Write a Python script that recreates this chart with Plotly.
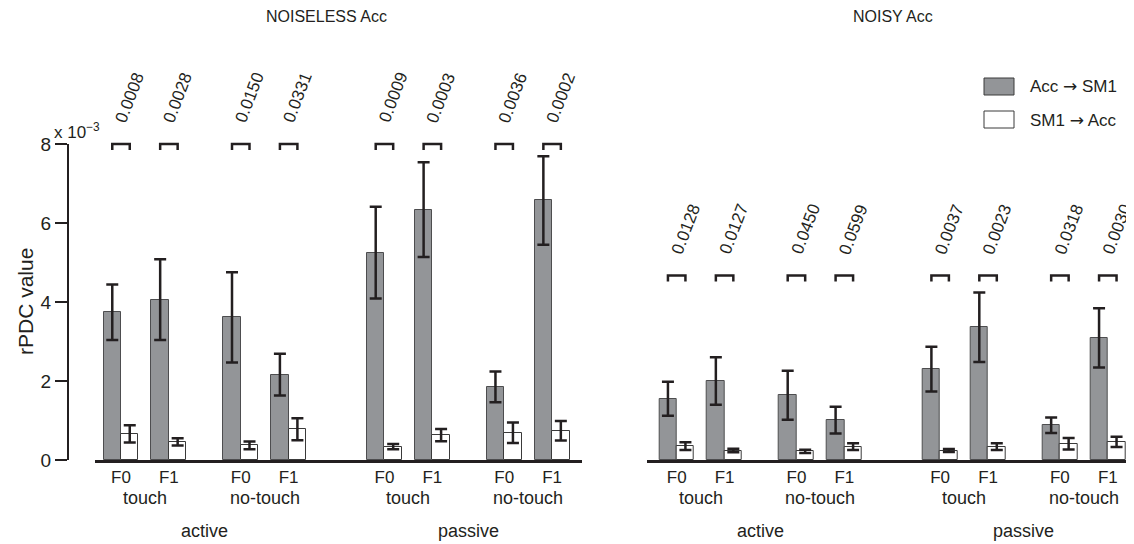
import plotly.graph_objects as go

# ---------------- data (values in units of 10^-3) ----------------
positions = [0, 1, 2.5, 3.5, 5.5, 6.5, 8, 9]
f_labels = ["F0", "F1", "F0", "F1", "F0", "F1", "F0", "F1"]
touch_labels = ["touch", "no-touch", "touch", "no-touch"]
touch_centers = [0.5, 3.0, 6.0, 8.5]
mode_labels = ["active", "passive"]
mode_centers = [1.75, 7.25]
series_names = ["Acc \u2192 SM1", "SM1 \u2192 Acc"]
panel_titles = ["NOISELESS Acc", "NOISY Acc"]

noiseless_acc_sm1 = [3.74, 4.06, 3.61, 2.16, 5.25, 6.34, 1.85, 6.57]
noiseless_acc_sm1_err = [0.70, 1.02, 1.14, 0.53, 1.16, 1.20, 0.39, 1.12]
noiseless_sm1_acc = [0.66, 0.46, 0.37, 0.78, 0.34, 0.63, 0.69, 0.74]
noiseless_sm1_acc_err = [0.22, 0.09, 0.10, 0.28, 0.065, 0.155, 0.26, 0.245]
noiseless_p = ["0.0008", "0.0028", "0.0150", "0.0331", "0.0009", "0.0003", "0.0036", "0.0002"]

noisy_acc_sm1 = [1.55, 2.00, 1.64, 1.01, 2.30, 3.36, 0.88, 3.09]
noisy_acc_sm1_err = [0.43, 0.60, 0.62, 0.34, 0.565, 0.88, 0.195, 0.75]
noisy_sm1_acc = [0.35, 0.24, 0.22, 0.34, 0.24, 0.34, 0.41, 0.46]
noisy_sm1_acc_err = [0.10, 0.045, 0.04, 0.085, 0.04, 0.085, 0.145, 0.13]
noisy_p = ["0.0128", "0.0127", "0.0450", "0.0599", "0.0037", "0.0023", "0.0318", "0.0030"]

bracket_levels = [8.0, 4.67]

# ---------------- styling / layout helpers ----------------
OFF = 8                      # page body margin
W, H = 1134 - OFF, 544 - OFF
FONT = "Liberation Sans, Arial, Helvetica, sans-serif"
INK = "#231f20"
GRAY = "#939598"
BW = 0.365          # bar width in x units
LEG = 0.15          # bracket leg length
TXT_OFF = 1.17      # p-value text above bracket
TXT_DX = 0.19


def px(x):
    return (x - OFF) / W


def py(y):
    return 1 - (y - OFF) / H


def arrowed(name):
    a, b = name.split(" \u2192 ")
    return a + " <span style='font-family:DejaVu Sans'>\u2192</span> " + b


y0p, y8p = py(460), py(144)
per_unit = (y8p - y0p) / 8.0
Y3MAX = 10.5

fig = go.Figure()

panels = [
    dict(xa="x", ya="y", ya_ext="y3", gray=noiseless_acc_sm1, gerr=noiseless_acc_sm1_err,
         white=noiseless_sm1_acc, werr=noiseless_sm1_acc_err, p=noiseless_p, lvl=bracket_levels[0]),
    dict(xa="x2", ya="y2", ya_ext="y2", gray=noisy_acc_sm1, gerr=noisy_acc_sm1_err,
         white=noisy_sm1_acc, werr=noisy_sm1_acc_err, p=noisy_p, lvl=bracket_levels[1]),
]

for pn in panels:
    fig.add_trace(go.Bar(
        x=positions, y=pn["gray"], width=BW, offset=-BW, xaxis=pn["xa"], yaxis=pn["ya"],
        name=series_names[0], showlegend=False,
        marker=dict(color=GRAY, line=dict(color="#4d4d4f", width=1)),
        error_y=dict(type="data", array=pn["gerr"], color=INK, thickness=2.5, width=6),
    ))
    fig.add_trace(go.Bar(
        x=positions, y=pn["white"], width=BW, offset=0, xaxis=pn["xa"], yaxis=pn["ya"],
        name=series_names[1], showlegend=False,
        marker=dict(color="white", line=dict(color="#3a3a3a", width=1)),
        error_y=dict(type="data", array=pn["werr"], color=INK, thickness=2.5, width=6),
    ))
    # significance brackets
    bx, by = [], []
    for p in positions:
        bx += [p - BW / 2, p - BW / 2, p + BW / 2, p + BW / 2, None]
        by += [pn["lvl"] - LEG, pn["lvl"], pn["lvl"], pn["lvl"] - LEG, None]
    fig.add_trace(go.Scatter(
        x=bx, y=by, mode="lines", xaxis=pn["xa"], yaxis=pn["ya_ext"],
        line=dict(color=INK, width=2.5), showlegend=False, hoverinfo="skip",
    ))
    for p, txt in zip(positions, pn["p"]):
        fig.add_annotation(
            x=p + TXT_DX, y=pn["lvl"] + TXT_OFF, xref=pn["xa"], yref=pn["ya_ext"],
            text=txt, showarrow=False, textangle=-69, xanchor="center", yanchor="middle",
            borderpad=0, font=dict(size=17, color=INK, family=FONT),
        )
    for c, t in zip(touch_centers, touch_labels):
        fig.add_annotation(x=c, y=py(498), xref=pn["xa"], yref="paper", text=t,
                           showarrow=False, xanchor="center", yanchor="middle",
                           font=dict(size=18, color=INK, family=FONT))
    for c, t in zip(mode_centers, mode_labels):
        fig.add_annotation(x=c, y=py(531), xref=pn["xa"], yref="paper", text=t,
                           showarrow=False, xanchor="center", yanchor="middle",
                           font=dict(size=18, color=INK, family=FONT))

xcommon = dict(showline=True, linewidth=2.5, linecolor=INK, ticks="", showgrid=False,
               zeroline=False, tickmode="array", tickvals=positions, ticktext=f_labels,
               tickfont=dict(size=17, color=INK, family=FONT), fixedrange=True)

fig.update_layout(
    width=W, height=H, margin=dict(l=0, r=0, t=0, b=0, autoexpand=False),
    paper_bgcolor="white", plot_bgcolor="rgba(0,0,0,0)",
    barmode="overlay", bargap=0, showlegend=False,
    font=dict(family=FONT, color=INK),
    xaxis=dict(domain=[px(95), px(581.7)], range=[-0.543, 9.618], anchor="y", **xcommon),
    xaxis2=dict(domain=[px(646.7), px(1133)], range=[-0.626, 9.526], anchor="y2", **xcommon),
    yaxis=dict(domain=[y0p, y8p], range=[0, 8], anchor="free", position=px(68),
               showline=True, linewidth=2, linecolor=INK, ticks="outside", ticklen=12,
               tickwidth=2, tickcolor=INK, tickvals=[0, 2, 4, 6, 8],
               tickfont=dict(size=19, color=INK, family=FONT), showgrid=False, zeroline=False),
    yaxis2=dict(domain=[y0p, y8p], range=[0, 8], anchor="x2", visible=False),
    yaxis3=dict(domain=[y0p, y0p + Y3MAX * per_unit], range=[0, Y3MAX], anchor="x", visible=False),
)

# axis label, exponent, titles
fig.add_annotation(x=px(25), y=py(302), xref="paper", yref="paper", text="rPDC value",
                   textangle=-90, showarrow=False, xanchor="center", yanchor="middle",
                   font=dict(size=21, color=INK, family=FONT))
fig.add_annotation(x=px(52), y=py(144), xref="paper", yref="paper",
                   text="x 10<sup>\u22123</sup>", showarrow=False, xanchor="left", yanchor="bottom",
                   font=dict(size=17, color=INK, family=FONT))
fig.add_annotation(x=px(326), y=py(16), xref="paper", yref="paper", text=panel_titles[0],
                   showarrow=False, xanchor="center", yanchor="middle", borderpad=0,
                   font=dict(size=16, color=INK, family=FONT))
fig.add_annotation(x=px(893), y=py(16), xref="paper", yref="paper", text=panel_titles[1],
                   showarrow=False, xanchor="center", yanchor="middle", borderpad=0,
                   font=dict(size=16, color=INK, family=FONT))

# legend (drawn manually to match box size)
leg_boxes = [(78, 95, GRAY), (111, 128, "white")]
for (ya, yb, col), name in zip(leg_boxes, series_names):
    fig.add_shape(type="rect", xref="paper", yref="paper", x0=px(984), x1=px(1014),
                  y0=py(yb), y1=py(ya), fillcolor=col, line=dict(color="#3a3a3a", width=1))
    fig.add_annotation(x=px(1028), y=py((ya + yb) / 2), xref="paper", yref="paper",
                       text=arrowed(name), showarrow=False, xanchor="left", yanchor="middle",
                       font=dict(size=17, color=INK, family=FONT))

fig.write_html("out.html")
